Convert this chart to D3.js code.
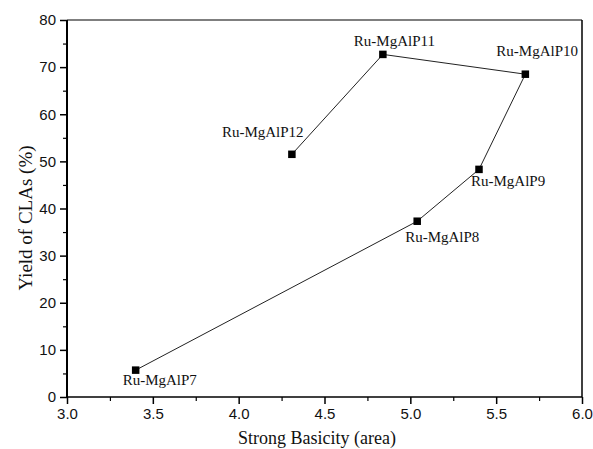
<!DOCTYPE html>
<html>
<head>
<meta charset="utf-8">
<script src="https://cdn.jsdelivr.net/npm/d3@7"></script>
<style>
  html, body { margin: 0; padding: 0; background: #fff; }
  svg { display: block; }
</style>
</head>
<body>
<svg id="chart" width="593" height="449"></svg>
<script>
// ---- data ----
const sampleNames = ["Ru-MgAlP7", "Ru-MgAlP8", "Ru-MgAlP9", "Ru-MgAlP10", "Ru-MgAlP11", "Ru-MgAlP12"];
const strongBasicity = [3.40, 5.04, 5.40, 5.67, 4.84, 4.31];
const yieldCLAs = [5.7, 37.3, 48.3, 68.5, 72.7, 51.5];
const xTickValues = [3.0, 3.5, 4.0, 4.5, 5.0, 5.5, 6.0];
const yTickValues = [0, 10, 20, 30, 40, 50, 60, 70, 80];
const xTitle = "Strong Basicity (area)";
const yTitle = "Yield of CLAs (%)";

// ---- layout (label placement relative to markers) ----
const labelOffsets = [[-13, 15], [-12, 21], [-8, 17], [-29, -18], [-29, -8], [-70, -17]];

const svg = d3.select("#chart");
const m = { left: 67, right: 582, top: 20, bottom: 397 };

const x = d3.scaleLinear().domain([3.0, 6.0]).range([m.left, m.right]);
const y = d3.scaleLinear().domain([0, 80]).range([m.bottom, m.top]);

svg.append("rect").attr("width", 593).attr("height", 449).attr("fill", "#fff");

// box top/right
svg.append("line").attr("x1", m.left).attr("x2", m.right).attr("y1", m.top).attr("y2", m.top)
  .attr("stroke", "#000").attr("stroke-width", 1.2);
svg.append("line").attr("x1", m.right).attr("x2", m.right).attr("y1", m.top).attr("y2", m.bottom)
  .attr("stroke", "#000").attr("stroke-width", 1.5);

// x minor ticks
const xMinor = d3.range(3.25, 6.0, 0.5);
const xMinorAxis = d3.axisBottom(x).tickValues(xMinor).tickSize(4).tickFormat("");
svg.append("g").attr("transform", `translate(0,${m.bottom})`).call(xMinorAxis)
  .call(g => g.select(".domain").remove())
  .call(g => g.selectAll("line").attr("stroke", "#000").attr("stroke-width", 1.2));

// x axis
const xAxis = d3.axisBottom(x).tickValues(xTickValues).tickSize(7).tickPadding(4)
  .tickFormat(d3.format(".1f"));
svg.append("g").attr("transform", `translate(0,${m.bottom})`).call(xAxis)
  .call(g => g.select(".domain").attr("stroke", "#000").attr("stroke-width", 1.5).attr("d", `M${m.left},0H${m.right}`))
  .call(g => g.selectAll("line").attr("stroke", "#000").attr("stroke-width", 1.5))
  .call(g => g.selectAll("text").attr("font-family", "Liberation Sans, Arial, sans-serif")
    .attr("font-size", 15).attr("fill", "#111"));

// y minor ticks
const yMinor = d3.range(5, 80, 10);
const yMinorAxis = d3.axisLeft(y).tickValues(yMinor).tickSize(4).tickFormat("");
svg.append("g").attr("transform", `translate(${m.left},0)`).call(yMinorAxis)
  .call(g => g.select(".domain").remove())
  .call(g => g.selectAll("line").attr("stroke", "#000").attr("stroke-width", 1.2));

// y axis
const yAxis = d3.axisLeft(y).tickValues(yTickValues).tickSize(7).tickPadding(4);
svg.append("g").attr("transform", `translate(${m.left},0)`).call(yAxis)
  .call(g => g.select(".domain").attr("stroke", "#000").attr("stroke-width", 2).attr("d", `M0,${m.bottom}V${m.top}`))
  .call(g => g.selectAll("line").attr("stroke", "#000").attr("stroke-width", 1.5))
  .call(g => g.selectAll("text").attr("font-family", "Liberation Sans, Arial, sans-serif")
    .attr("font-size", 15).attr("fill", "#111"));

// line
const pts = sampleNames.map((n, i) => ({ name: n, x: strongBasicity[i], y: yieldCLAs[i], off: labelOffsets[i] }));
svg.append("path").datum(pts)
  .attr("fill", "none").attr("stroke", "#222").attr("stroke-width", 1)
  .attr("d", d3.line().x(d => x(d.x)).y(d => y(d.y)));

// markers
const ms = 7.5;
svg.selectAll("rect.mk").data(pts).join("rect").attr("class", "mk")
  .attr("x", d => x(d.x) - ms / 2).attr("y", d => y(d.y) - ms / 2)
  .attr("width", ms).attr("height", ms).attr("fill", "#000");

// labels
svg.selectAll("text.lbl").data(pts).join("text").attr("class", "lbl")
  .attr("x", d => x(d.x) + d.off[0]).attr("y", d => y(d.y) + d.off[1])
  .attr("font-family", "Liberation Serif, Times New Roman, serif").attr("font-size", 15)
  .attr("fill", "#111").text(d => d.name);

// titles
svg.append("text").attr("x", 317).attr("y", 444).attr("text-anchor", "middle")
  .attr("font-family", "Liberation Serif, Times New Roman, serif").attr("font-size", 18)
  .attr("fill", "#111").text(xTitle);
svg.append("text").attr("transform", "translate(32,218) rotate(-90)").attr("text-anchor", "middle")
  .attr("font-family", "Liberation Serif, Times New Roman, serif").attr("font-size", 19)
  .attr("fill", "#111").text(yTitle);
</script>
</body>
</html>
